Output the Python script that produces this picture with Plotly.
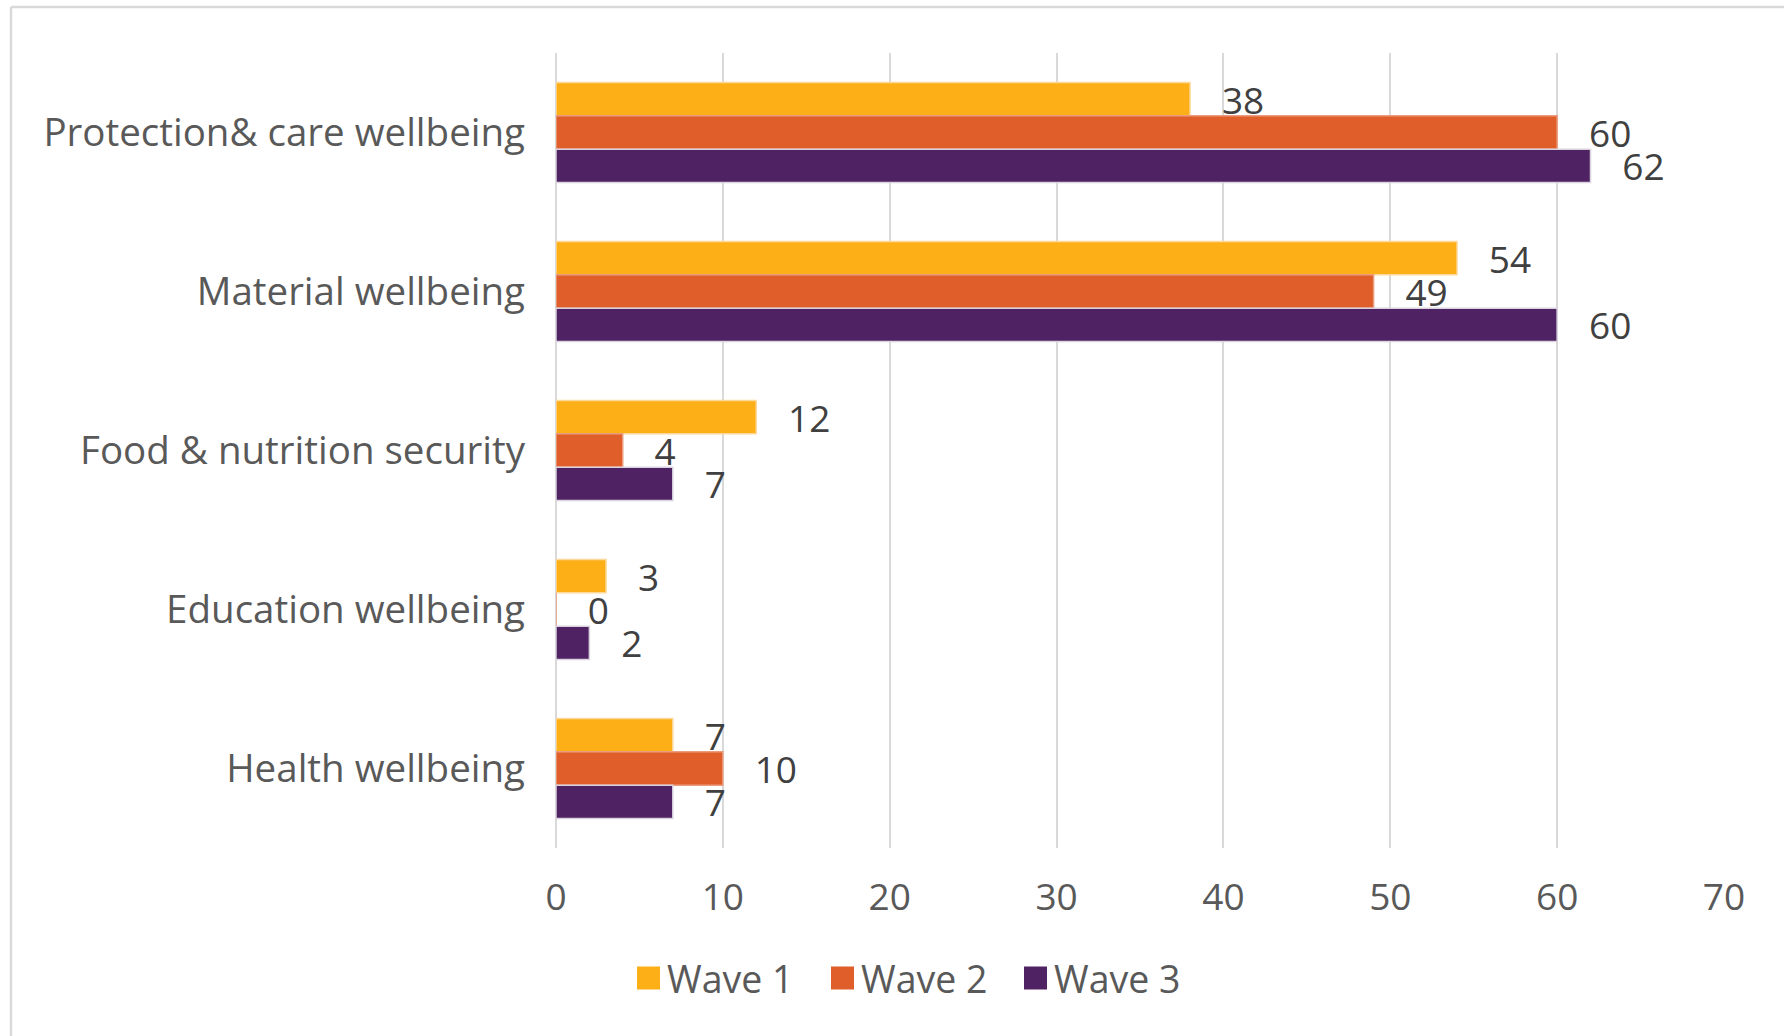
import plotly.graph_objects as go

# Wellbeing domains, listed top to bottom
categories = [
    "Protection& care wellbeing",
    "Material wellbeing",
    "Food & nutrition security",
    "Education wellbeing",
    "Health wellbeing",
]
series_names = ["Wave 1", "Wave 2", "Wave 3"]
wave1 = [38, 54, 12, 3, 7]
wave2 = [60, 49, 4, 0, 10]
wave3 = [62, 60, 7, 2, 7]
x_ticks = [0, 10, 20, 30, 40, 50, 60, 70]

colors = ["#FCAF17", "#E05E29", "#4F2263"]
edge_colors = ["#FDD89A", "#EC9C7E", "#D9D3DE"]

W, H = 1784, 1036
ML, MR, MT, MB = 556, 60, 53, 188
PW, PH = W - ML - MR, H - MT - MB

FONT = "Open Sans"
AXIS_TXT = "#595959"
LABEL_TXT = "#404040"
GRID = "#D9D9D9"


def px_x(px):
    return (px - ML) / PW


def px_y(py):
    return (H - MB - py) / PH


fig = go.Figure()
for name, vals, col, edge in zip(series_names, [wave1, wave2, wave3], colors, edge_colors):
    fig.add_trace(go.Bar(
        name=name,
        y=categories,
        x=vals,
        orientation="h",
        marker=dict(color=col, line=dict(color=edge, width=1.5)),
        texttemplate="\u00a0\u00a0\u00a0%{x}",
        textposition="outside",
        constraintext="none",
        cliponaxis=False,
        textfont=dict(family=FONT, size=37, color=LABEL_TXT),
        showlegend=False,
    ))

shapes = [
    # light frame around the chart area (left and top edges)
    dict(type="line", xref="paper", yref="paper",
         x0=px_x(11), x1=px_x(W + 10), y0=px_y(7), y1=px_y(7),
         line=dict(color=GRID, width=2.5)),
    dict(type="line", xref="paper", yref="paper",
         x0=px_x(11), x1=px_x(11), y0=px_y(7), y1=px_y(H + 10),
         line=dict(color=GRID, width=2.5)),
]
annotations = []

# legend row: square swatch followed by the series name
legend_x = [637, 831, 1024]
legend_y = 978
sq = 23
for name, col, lx in zip(series_names, colors, legend_x):
    shapes.append(dict(type="rect", xref="paper", yref="paper",
                       x0=px_x(lx), x1=px_x(lx + sq),
                       y0=px_y(legend_y - sq / 2), y1=px_y(legend_y + sq / 2),
                       fillcolor=col, line=dict(width=0)))
    annotations.append(dict(xref="paper", yref="paper",
                            x=px_x(lx + sq + 5), y=px_y(legend_y),
                            xanchor="left", yanchor="middle", showarrow=False,
                            text=name, font=dict(family=FONT, size=37.5, color=AXIS_TXT)))

fig.update_layout(
    width=W, height=H,
    margin=dict(l=ML, r=MR, t=MT, b=MB, pad=0),
    paper_bgcolor="white", plot_bgcolor="white",
    barmode="group",
    bargap=0.37,
    bargroupgap=0,
    font=dict(family=FONT, color=AXIS_TXT),
    shapes=shapes,
    annotations=annotations,
    xaxis=dict(
        range=[0, 70],
        tickvals=x_ticks,
        ticktext=[str(t) for t in x_ticks],
        showgrid=True, gridcolor=GRID, gridwidth=2,
        zeroline=True, zerolinecolor=GRID, zerolinewidth=2,
        showline=False, ticks="",
        tickfont=dict(family=FONT, size=37, color=AXIS_TXT),
        ticklabelstandoff=24,
        fixedrange=True,
    ),
    yaxis=dict(
        type="category",
        categoryorder="array", categoryarray=categories,
        autorange="reversed",
        showgrid=False, zeroline=False, showline=False, ticks="",
        tickfont=dict(family=FONT, size=38.5, color=AXIS_TXT),
        ticklabelstandoff=30,
        fixedrange=True,
    ),
)

fig.write_html("out.html")
